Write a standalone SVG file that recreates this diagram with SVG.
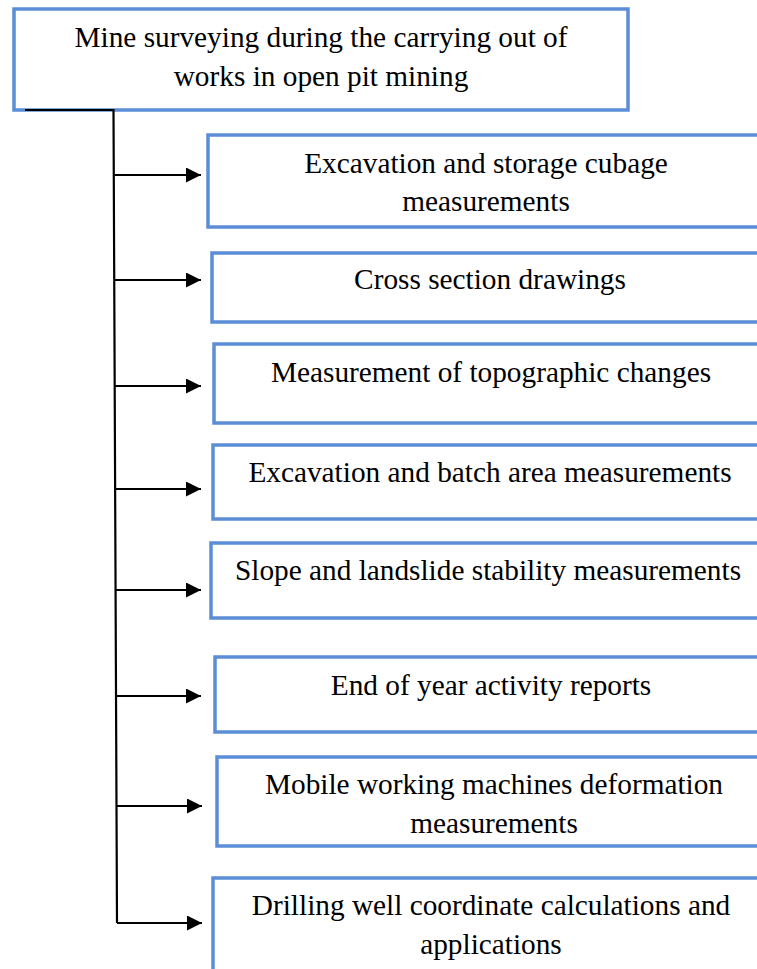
<svg xmlns="http://www.w3.org/2000/svg" width="757" height="969" viewBox="0 0 757 969">
<defs>
<style>
.box{fill:#fff;stroke:#5b8ed6;stroke-width:3.5}
.t{font-family:"Liberation Serif","Times New Roman",serif;font-size:29.3px;fill:#000;text-anchor:middle}
.c{fill:none;stroke:#000;stroke-width:2.2}
</style>
<marker id="ah" markerWidth="16" markerHeight="16" refX="15" refY="7.5" orient="auto" markerUnits="userSpaceOnUse">
<path d="M0,0 L15,7.5 L0,15 Z" fill="#000"/>
</marker>
</defs>
<rect width="757" height="969" fill="#fff"/>
<g id="root">
<rect class="box" x="14" y="9" width="614" height="101"/>
<text class="t" x="321" y="47">Mine surveying during the carrying out of</text>
<text class="t" x="321" y="86">works in open pit mining</text>
</g>
<g id="n1">
<rect class="box" x="208" y="135" width="570" height="92"/>
<text class="t" x="486" y="173">Excavation and storage cubage</text>
<text class="t" x="486" y="211">measurements</text>
</g>
<g id="n2">
<rect class="box" x="212" y="253" width="570" height="69"/>
<text class="t" x="490" y="289">Cross section drawings</text>
</g>
<g id="n3">
<rect class="box" x="214" y="344" width="570" height="79"/>
<text class="t" x="491" y="382">Measurement of topographic changes</text>
</g>
<g id="n4">
<rect class="box" x="213" y="445" width="570" height="74"/>
<text class="t" x="490" y="482">Excavation and batch area measurements</text>
</g>
<g id="n5">
<rect class="box" x="211" y="543" width="570" height="75"/>
<text class="t" x="488" y="580">Slope and landslide stability measurements</text>
</g>
<g id="n6">
<rect class="box" x="215" y="657" width="570" height="75"/>
<text class="t" x="491" y="695">End of year activity reports</text>
</g>
<g id="n7">
<rect class="box" x="217" y="757" width="570" height="89"/>
<text class="t" x="494" y="794">Mobile working machines deformation</text>
<text class="t" x="494" y="833">measurements</text>
</g>
<g id="n8">
<rect class="box" x="213" y="878" width="570" height="110"/>
<text class="t" x="491" y="915">Drilling well coordinate calculations and</text>
<text class="t" x="491" y="954">applications</text>
</g>
<g id="connectors">
<path class="c" d="M25,110 H113.5 L117,923"/>
<line class="c" x1="113.5" y1="175" x2="201" y2="175" marker-end="url(#ah)"/>
<line class="c" x1="114" y1="280" x2="201" y2="280" marker-end="url(#ah)"/>
<line class="c" x1="114.5" y1="386" x2="201" y2="386" marker-end="url(#ah)"/>
<line class="c" x1="115" y1="489" x2="201" y2="489" marker-end="url(#ah)"/>
<line class="c" x1="115.5" y1="590" x2="201" y2="590" marker-end="url(#ah)"/>
<line class="c" x1="116" y1="696" x2="201" y2="696" marker-end="url(#ah)"/>
<line class="c" x1="116.5" y1="806" x2="202" y2="806" marker-end="url(#ah)"/>
<line class="c" x1="117" y1="923" x2="202" y2="923" marker-end="url(#ah)"/>
</g>
</svg>
